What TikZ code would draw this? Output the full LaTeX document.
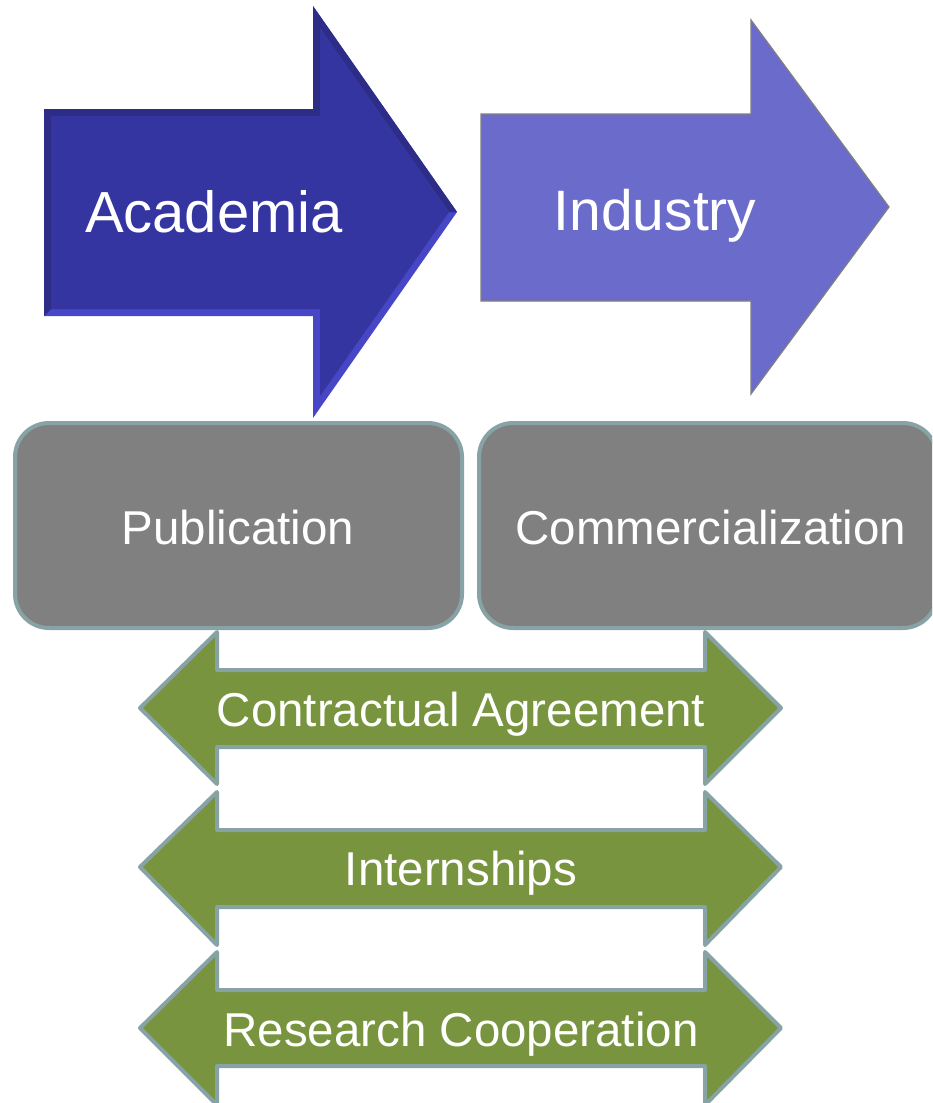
\documentclass[tikz,border=0pt]{standalone}
\usepackage{fontspec}
\setmainfont{Liberation Sans}
\definecolor{acad}{HTML}{3535A2}
\definecolor{acadlight}{HTML}{4646C6}
\definecolor{acaddark}{HTML}{2D2D88}
\definecolor{indus}{HTML}{6B6BCB}
\definecolor{boxgray}{HTML}{808080}
\definecolor{edgeteal}{HTML}{88A3A6}
\definecolor{leaf}{HTML}{78943E}
\tikzset{
  lbl/.style={text=white, anchor=base, inner sep=0pt},
  graybox/.style={fill=boxgray, draw=edgeteal, line width=4pt, rounded corners=34pt},
  dblarrow/.style={fill=leaf, draw=edgeteal, line width=4pt, line join=round},
}
\begin{document}
\begin{tikzpicture}[x=1pt,y=-1pt]
\useasboundingbox (0,0) rectangle (932,1103);
\clip (0,0) rectangle (932,1103);
% Academia arrow (bevelled)
\fill[acadlight] (44,109) -- (313,109) -- (313,6) -- (457,212) -- (313,418) -- (313,316) -- (44,316) -- cycle;
\fill[acaddark] (44,109) -- (313,109) -- (313,6) -- (457,212) -- (449,212) -- (320,28) -- (320,116) -- (51,116) -- (51,309) -- (44,316) -- cycle;
\fill[acad] (51,116) -- (320,116) -- (320,28) -- (449,212) -- (320,396) -- (320,309) -- (51,309) -- cycle;
\node[lbl, font=\fontsize{58}{60}\selectfont] (acadtxt) at (214,232) {Academia};
% Industry arrow
\draw[fill=indus, draw=gray, line width=1.2pt] (481,114) -- (751,114) -- (751,20) -- (889,207) -- (751,394) -- (751,301) -- (481,301) -- cycle;
\node[lbl, font=\fontsize{57}{60}\selectfont] (indtxt) at (655,230) {Industry};
% Gray boxes
\draw[graybox] (15,423) rectangle (462,628);
\node[lbl, font=\fontsize{47.5}{50}\selectfont] (pub) at (238,544) {Publication};
\draw[graybox] (479,423) rectangle (937,628);
\node[lbl, font=\fontsize{47.5}{50}\selectfont] (com) at (711,544) {Commercialization};
% Green double arrows
\foreach \t/\hb/\bt/\c/\bb/\he in {a/632/670/708/747/784, b/792/830/867/907/945, c/952/990/1028/1066/1105}{
  \draw[dblarrow] (140,\c) -- (217,\hb) -- (217,\bt) -- (705,\bt) -- (705,\hb) -- (781,\c) -- (705,\he) -- (705,\bb) -- (217,\bb) -- (217,\he) -- cycle;
}
\node[lbl, font=\fontsize{47.5}{50}\selectfont] (ca) at (461,726) {Contractual Agreement};
\node[lbl, font=\fontsize{47.5}{50}\selectfont] (in) at (461,885) {Internships};
\node[lbl, font=\fontsize{47.5}{50}\selectfont] (rc) at (461,1046) {Research Cooperation};
\end{tikzpicture}
\end{document}
